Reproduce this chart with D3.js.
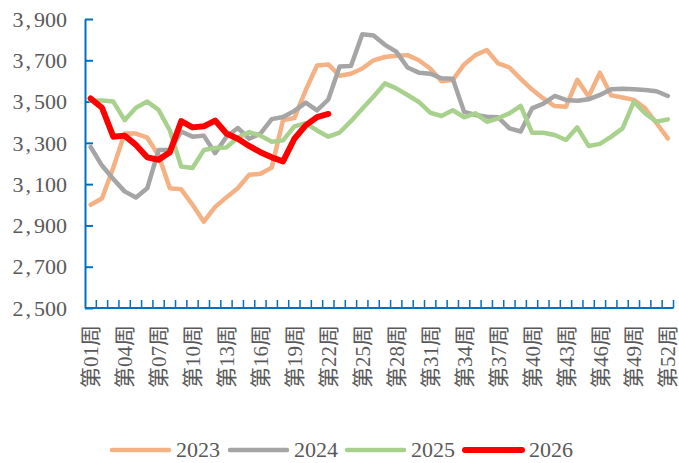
<!DOCTYPE html>
<html>
<head>
<meta charset="utf-8">
<script src="https://cdn.jsdelivr.net/npm/d3@7"></script>
<style>
  body { margin: 0; background: #fff; }
  svg { display: block; }
  text { font-family: "Liberation Serif", "Noto Sans CJK SC", serif; fill: #595959; }
</style>
</head>
<body>
<svg id="chart" width="679" height="463"></svg>
<script>
// weeks 1..52
var weeks = d3.range(1, 53).map(function (w) { return "第" + (w < 10 ? "0" + w : w) + "周"; });

var s2023 = [3000, 3030, 3180, 3345, 3345, 3325, 3240, 3080, 3075, 3000,
             2918, 2990, 3036, 3080, 3145, 3150, 3180, 3411, 3420, 3555,
             3675, 3680, 3625, 3635, 3660, 3700, 3716, 3722, 3725, 3700,
             3660, 3598, 3605, 3680, 3725, 3750, 3685, 3665, 3610, 3558,
             3515, 3478, 3475, 3605, 3525, 3640, 3530, 3520, 3508, 3467,
             3395, 3322];
var s2024 = [3280, 3190, 3125, 3065, 3035, 3080, 3265, 3265, 3355, 3330,
             3335, 3250, 3330, 3372, 3320, 3345, 3415, 3425, 3455, 3495,
             3457, 3510, 3670, 3672, 3826, 3820, 3775, 3742, 3665, 3640,
             3635, 3613, 3610, 3450, 3435, 3427, 3424, 3370, 3355, 3467,
             3490, 3527, 3508, 3504, 3511, 3532, 3560, 3562, 3560, 3556,
             3550, 3527];
var s2025 = [3505, 3505, 3500, 3410, 3470, 3500, 3460, 3360, 3185, 3178,
             3265, 3275, 3278, 3325, 3352, 3335, 3305, 3312, 3380, 3395,
             3360, 3330, 3350, 3405, 3465, 3525, 3588, 3564, 3532, 3498,
             3446, 3430, 3458, 3424, 3443, 3402, 3419, 3443, 3479, 3349,
             3349, 3338, 3314, 3375, 3285, 3295, 3330, 3370, 3500, 3443,
             3402, 3414];
var s2026 = [3515, 3470, 3330, 3335, 3290, 3230, 3218, 3255, 3405, 3375,
             3380, 3408, 3345, 3320, 3285, 3255, 3230, 3210, 3320, 3385,
             3425, 3440];

var yTicks = [2500, 2700, 2900, 3100, 3300, 3500, 3700, 3900];
var labelWeeks = weeks.filter(function (d, i) { return i % 3 === 0; });

var series = [
  { name: "2023", values: s2023, color: "#F4B183", width: 4.5 },
  { name: "2024", values: s2024, color: "#A5A5A5", width: 4.5 },
  { name: "2025", values: s2025, color: "#A9D18E", width: 4.5 },
  { name: "2026", values: s2026, color: "#FF0000", width: 6 }
];

function drawChart() {
  var svg = d3.select("#chart");
  var plotLeft = 85, plotRight = 673.5, plotTop = 19, plotBottom = 308;
  var axisColor = "#0070C0";

  var x = d3.scaleBand().domain(weeks).range([plotLeft, plotRight]);
  var y = d3.scaleLinear().domain([2500, 3900]).range([plotBottom, plotTop]);

  // y axis, ticks pointing inward
  var yAxis = svg.append("g")
    .attr("transform", "translate(" + plotLeft + ",0)")
    .call(d3.axisLeft(y).tickValues(yTicks).tickSizeInner(-8).tickSizeOuter(0).tickFormat(""));
  yAxis.select(".domain").attr("stroke", axisColor).attr("stroke-width", 2);
  yAxis.selectAll(".tick line").attr("stroke", axisColor).attr("stroke-width", 2);

  // y labels with a wide comma like the original
  svg.append("g").selectAll("text")
    .data(yTicks)
    .join("text")
    .attr("x", 67)
    .attr("y", function (d) { return y(d); })
    .attr("dy", "0.35em")
    .attr("text-anchor", "end")
    .style("font-size", "22px")
    .each(function (d) {
      var t = d3.select(this);
      var s = String(d);
      t.append("tspan").text(s.slice(0, 1));
      t.append("tspan").attr("dx", 2).text(",");
      t.append("tspan").attr("dx", 3).text(s.slice(1));
    });

  // x axis line and ticks at band edges
  svg.append("line")
    .attr("x1", plotLeft).attr("x2", plotRight)
    .attr("y1", plotBottom).attr("y2", plotBottom)
    .attr("stroke", axisColor).attr("stroke-width", 2);
  var edges = weeks.map(function (d) { return x(d); }).concat([plotRight]).slice(1);
  svg.append("g").selectAll("line")
    .data(edges)
    .join("line")
    .attr("x1", function (d) { return d; })
    .attr("x2", function (d) { return d; })
    .attr("y1", plotBottom)
    .attr("y2", plotBottom - 8)
    .attr("stroke", axisColor)
    .attr("stroke-width", 1.5);

  var xAxis = svg.append("g")
    .attr("transform", "translate(0," + plotBottom + ")")
    .call(d3.axisBottom(x).tickValues(labelWeeks).tickSize(0));
  xAxis.select(".domain").remove();
  xAxis.selectAll("text")
    .attr("transform", "rotate(-90)")
    .attr("text-anchor", "end")
    .attr("x", -17)
    .attr("y", 0)
    .attr("dy", "0.36em")
    .style("font-size", "21px")
    .style("font-family", "'Liberation Serif', 'Noto Sans CJK SC', serif")
    .attr("fill", "#595959");

  // lines
  var line = d3.line()
    .x(function (d, i) { return x(weeks[i]) + x.bandwidth() / 2; })
    .y(function (d) { return y(d); });

  svg.append("g").selectAll("path")
    .data(series)
    .join("path")
    .attr("d", function (d) { return line(d.values); })
    .attr("fill", "none")
    .attr("stroke", function (d) { return d.color; })
    .attr("stroke-width", function (d) { return d.width; })
    .attr("stroke-linejoin", "round")
    .attr("stroke-linecap", "round");

  // legend
  var legendX = [112, 230, 347, 465];
  var lg = svg.append("g").selectAll("g")
    .data(series)
    .join("g")
    .attr("transform", function (d, i) { return "translate(" + legendX[i] + ",450)"; });
  lg.append("line")
    .attr("x1", 0).attr("x2", 57)
    .attr("stroke", function (d) { return d.color; })
    .attr("stroke-width", function (d) { return d.width; })
    .attr("stroke-linecap", "round");
  lg.append("text")
    .attr("x", 64)
    .attr("y", 7)
    .style("font-size", "22px")
    .text(function (d) { return d.name; });
}

drawChart();
</script>
</body>
</html>
